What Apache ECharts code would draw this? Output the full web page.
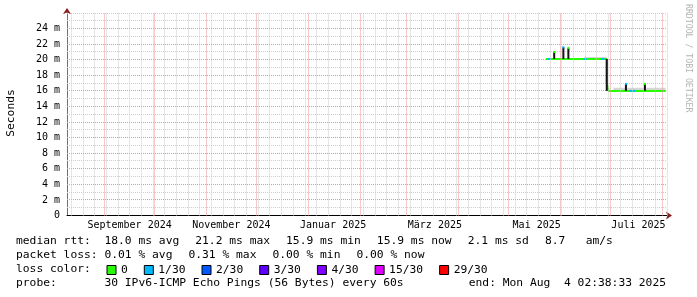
<!DOCTYPE html>
<html><head><meta charset="utf-8">
<script src="https://cdn.jsdelivr.net/npm/echarts@6/dist/echarts.min.js"></script>
<style>html,body{margin:0;padding:0;background:#fff}#c{width:697px;height:297px}</style>
</head><body><div id="c"></div>
<script>
const FONT = 'DejaVu Sans Mono';
// time range of the graph
const xStart = '2024-08-09T12:00:00';
const xEnd = '2025-08-04T02:38:33';
// major grid (month starts) and labels
const monthStarts = ['2024-09-01','2024-10-01','2024-11-01','2024-12-01','2025-01-01','2025-02-01',
  '2025-03-01','2025-04-01','2025-05-01','2025-06-01','2025-07-01','2025-08-01'];
const monthLabelTimes = ['2024-09-16','2024-11-16','2025-01-16','2025-03-18','2025-05-18','2025-07-18'];
const monthLabels = ['September 2024','November 2024','Januar 2025','März 2025','Mai 2025','Juli 2025'];
const firstMonday = '2024-08-12';
// y axis (ms)
const yMax = 26, yStep = 2;

// median rtt (ms), step line
const medianTime = ['2025-05-23T14:00','2025-06-29T00:00','2025-06-30T00:00','2025-08-03T08:00'];
const medianValue = [20.1, 17.1, 16.0, 16.0];

// light smoke bands
const bandStart = ['2025-06-16T00:00','2025-07-03T00:00'];
const bandEnd   = ['2025-06-29T00:00','2025-08-03T08:00'];
const bandLow   = [20.0, 16.0];
const bandHigh  = [20.35, 16.4];

// loss-coloured median days
const lossTime  = ['2025-05-25T12:00','2025-06-16T00:00','2025-06-26T18:00','2025-07-13T12:00','2025-07-15T06:00'];
const lossValue = [20.1, 20.1, 20.1, 16.0, 16.0];
const lossLevel = [1, 1, 1, 1, 1];

// dark smoke spikes
const spikeTime = ['2025-05-28T12:00','2025-06-03T00:00','2025-06-06T00:00','2025-06-29T00:00','2025-07-10T12:00','2025-07-21T21:00'];
const spikeLow  = [20.1, 20.1, 20.1, 16.0, 16.0, 16.0];
const spikeHigh = [21.0, 21.6, 21.5, 20.1, 16.9, 16.9];
const spikeCap  = [0, 1, 0, -1, 1, 0];

const lossColors = ['#26ff00','#00b8ff','#0059ff','#5e00ff','#7e00ff','#dd00ff','#ff0000'];
const lossLabels = ['0','1/30','2/30','3/30','4/30','15/30','29/30'];

// legend rows: heading + items
const rowHeads = ['median rtt:', 'packet loss:', 'loss color:', 'probe:'];
const medianItems = ['18.0 ms avg','21.2 ms max','15.9 ms min','15.9 ms now','2.1 ms sd','8.7   am/s'];
const lossItems = ['0.01 % avg','0.31 % max','0.00 % min','0.00 % now'];
const probeItems = ['30 IPv6-ICMP Echo Pings (56 Bytes) every 60s'];
const endText = 'end: Mon Aug  4 02:38:33 2025';

function ts(s) {
  const [d, t = '00:00:00'] = s.split('T');
  const [y, m, dd] = d.split('-').map(Number);
  const [hh, mm, ss = 0] = t.split(':').map(Number);
  return new Date(y, m - 1, dd, hh, mm, ss).getTime();
}
const tMin = ts(xStart), tMax = ts(xEnd);
const weekly = [];
for (let t = ts(firstMonday); t <= tMax; t += 7 * 86400000) weekly.push(t);
const labelTs = monthLabelTimes.map(ts);
const yGrid = [];
for (let v = 1; v <= yMax; v++) yGrid.push([tMin, v, (v % yStep === 0 && v < yMax) ? 1 : 0]);

const LFS = 11.3;
const mctx = document.createElement('canvas').getContext('2d');
mctx.font = LFS + 'px "' + FONT + '"';
const charW = mctx.measureText('0').width;
const itemX0 = 16 + 13 * charW, itemGap = 16;
function rowTexts(items, y) {
  const out = [];
  let x = itemX0;
  items.forEach(t => {
    out.push({type: 'text', x: x, y: y, style: {text: t, fontFamily: FONT, fontSize: LFS, fill: '#000', textVerticalAlign: 'middle'}});
    x += mctx.measureText(t).width + itemGap;
  });
  return out;
}
const rowY = [241, 255, 269, 283];

const chart = echarts.init(document.getElementById('c'), null, {renderer: 'canvas'});
const minorColor = '#cdcdcd', majorColor = '#ea9494';
const minorGrid = {color: minorColor, width: 1, type: [1, 1], opacity: 1};
const majorGrid = {color: majorColor, width: 1, type: [1, 1], opacity: 1};
const arrowColor = '#8b1a1a';

function gridSeries(lines, style, z) {
  return {type: 'line', z: z, silent: true, data: [[tMin, 0]], showSymbol: false, symbol: 'none',
    lineStyle: {opacity: 0},
    markLine: {silent: true, symbol: ['none', 'none'], animation: false, label: {show: false},
      lineStyle: style, emphasis: {disabled: true}, data: lines}};
}

const option = {
  animation: false,
  backgroundColor: '#fff',
  grid: {left: 67, right: 30, top: 13, bottom: 81.5},
  xAxis: [
    {type: 'value', position: 'bottom', min: tMin, max: tMax, scale: true,
     axisLine: {show: true, onZero: false, lineStyle: {color: '#000', width: 1}},
     axisTick: {show: false},
     axisLabel: {show: true, customValues: labelTs, margin: 5,
       fontFamily: FONT, fontSize: 10, color: '#000',
       formatter: v => { const i = labelTs.indexOf(v); return i >= 0 ? monthLabels[i] : ''; }},
     splitLine: {show: false}},
    {type: 'value', position: 'bottom', min: tMin, max: tMax, scale: true,
     axisLine: {show: true, onZero: false, symbol: ['none', 'arrow'], symbolSize: [6, 6], symbolOffset: [0, 5],
       lineStyle: {color: arrowColor, opacity: 0}},
     axisTick: {show: false}, axisLabel: {show: false}, splitLine: {show: false}}
  ],
  yAxis: [
    {type: 'value', position: 'left', min: 0, max: yMax, interval: yStep,
     axisLine: {show: true, onZero: false, lineStyle: {color: '#707070'}},
     axisTick: {show: false},
     axisLabel: {margin: 7, fontFamily: FONT, fontSize: 10, color: '#000',
       formatter: v => v === 0 ? '0' : (v >= yMax ? '' : v + ' m')},
     splitLine: {show: false}},
    {type: 'value', position: 'left', min: 0, max: yMax, interval: yStep,
     axisLine: {show: true, onZero: false, symbol: ['none', 'arrow'], symbolSize: [6, 6], symbolOffset: [0, 5],
       lineStyle: {color: arrowColor, opacity: 0}},
     axisTick: {show: false}, axisLabel: {show: false}, splitLine: {show: false}}
  ],
  legend: {
    left: 106.5, top: 264.5, itemWidth: 9, itemHeight: 9, itemGap: itemGap, icon: 'rect',
    padding: 0, selectedMode: false,
    itemStyle: {borderColor: '#000', borderWidth: 1},
    textStyle: {fontFamily: FONT, fontSize: LFS, color: '#000'},
    data: lossLabels
  },
  graphic: [
    {type: 'text', x: 11, y: 113, rotation: Math.PI / 2,
     style: {text: 'Seconds', fontFamily: FONT, fontSize: LFS, fill: '#000', textAlign: 'center', textVerticalAlign: 'middle'}},
    {type: 'text', x: 688, y: 4, rotation: -Math.PI / 2,
     style: {text: 'RRDTOOL / TOBI OETIKER', fontFamily: FONT, fontSize: 8.2, fill: '#b4b4b4', textAlign: 'left', textVerticalAlign: 'middle'}},
    ...rowHeads.map((t, i) => ({type: 'text', x: 16, y: rowY[i],
      style: {text: t, fontFamily: FONT, fontSize: LFS, fill: '#000', textVerticalAlign: 'middle'}})),
    ...rowTexts(medianItems, rowY[0]),
    ...rowTexts(lossItems, rowY[1]),
    ...rowTexts(probeItems, rowY[3]),
    {type: 'text', x: 666, y: rowY[3],
     style: {text: endText, fontFamily: FONT, fontSize: LFS, fill: '#000', textAlign: 'right', textVerticalAlign: 'middle'}}
  ],
  series: [
    ...lossLabels.map((n, i) => ({name: n, type: 'bar', data: [], itemStyle: {color: lossColors[i]}})),
    gridSeries(weekly.map(t => ({xAxis: t})), minorGrid, 0),
    gridSeries(monthStarts.map(s => ({xAxis: ts(s)})), majorGrid, 0),
    {type: 'custom', z: 0, silent: true, clip: false,
     encode: {x: 0, y: 1},
     data: yGrid,
     renderItem: (p, api) => {
       const a = api.coord([tMin, api.value(1)]);
       const b = api.coord([tMax, api.value(1)]);
       const yy = Math.floor(a[1]) + 0.5;
       return {type: 'line', z2: api.value(2) ? 2 : 1,
         shape: {x1: a[0], y1: yy, x2: b[0], y2: yy},
         style: {stroke: api.value(2) ? majorColor : minorColor, lineWidth: 1, lineDash: [1, 1], fill: null}};
     }},
    {type: 'custom', z: 1, silent: true,
     encode: {x: [0, 1], y: [2, 3]},
     data: bandStart.map((s, i) => [ts(s), ts(bandEnd[i]), bandLow[i], bandHigh[i]]),
     renderItem: (p, api) => {
       const a = api.coord([api.value(0), api.value(3)]);
       const b = api.coord([api.value(1), api.value(2)]);
       return {type: 'rect', shape: {x: a[0], y: a[1], width: b[0] - a[0], height: b[1] - a[1]}, style: {fill: '#d6d6d6'}};
     }},
    {type: 'line', z: 2, step: 'end', symbol: 'none', silent: true,
     lineStyle: {color: lossColors[0], width: 2},
     data: medianTime.map((t, i) => [ts(t), medianValue[i]])},
    {type: 'custom', z: 3, silent: true,
     encode: {x: 0, y: 1},
     data: lossTime.map((t, i) => [ts(t), lossValue[i], lossLevel[i]]),
     renderItem: (p, api) => {
       const c = api.coord([api.value(0), api.value(1)]);
       return {type: 'rect', shape: {x: c[0] - 1.5, y: c[1] - 1, width: 3, height: 2}, style: {fill: lossColors[api.value(2)]}};
     }},
    {type: 'custom', z: 4, silent: true,
     encode: {x: 0, y: [1, 2]},
     data: spikeTime.map((t, i) => [ts(t), spikeLow[i], spikeHigh[i], spikeCap[i]]),
     renderItem: (p, api) => {
       const a = api.coord([api.value(0), api.value(2)]);
       const b = api.coord([api.value(0), api.value(1)]);
       const cap = api.value(3);
       const ch = [{type: 'rect', shape: {x: a[0] - 1, y: a[1], width: 2, height: b[1] - a[1]}, style: {fill: '#151515'}}];
       if (cap >= 0) ch.push({type: 'rect', shape: {x: a[0] - 1, y: a[1] - 1, width: 2, height: 2}, style: {fill: lossColors[cap]}});
       return {type: 'group', children: ch};
     }}
  ]
};
chart.setOption(option);
</script></body></html>
